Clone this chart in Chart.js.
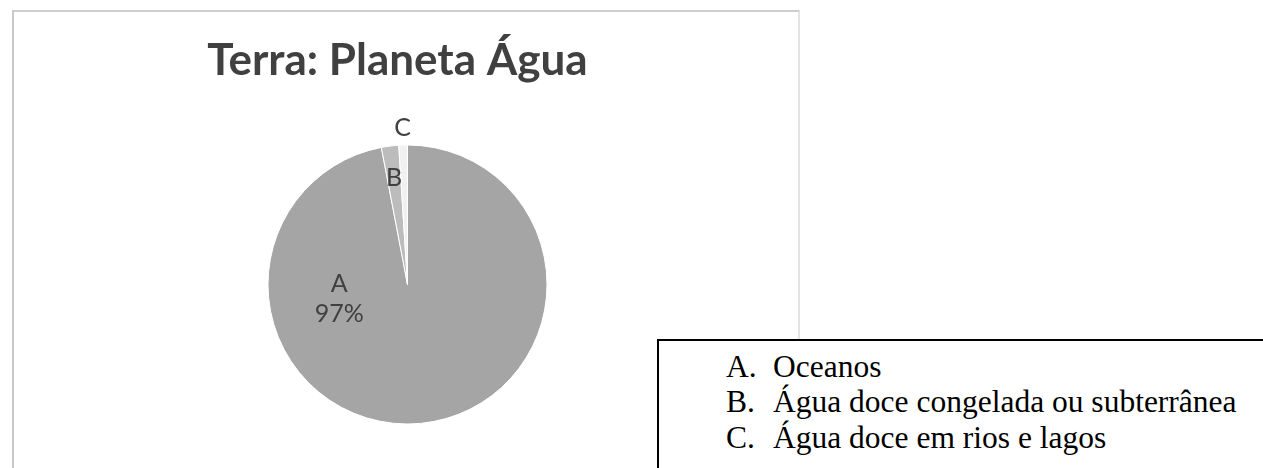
<!DOCTYPE html>
<html lang="pt">
<head>
<meta charset="utf-8">
<title>Terra: Planeta Água</title>
<script src="https://cdn.jsdelivr.net/npm/chart.js@4/dist/chart.umd.min.js"></script>
<style>
  html, body { margin: 0; padding: 0; background: #fff; width: 1263px; height: 468px; overflow: hidden; }
  #frame {
    position: absolute; left: 12px; top: 10px; width: 788px; height: 470px;
    border-left: 2px solid #c9c9c9; border-top: 2px solid #cdcdcd; border-right: 2px solid #e4e4e4;
    box-sizing: border-box;
  }
  #wrap { position: absolute; left: 14px; top: 12px; width: 784px; height: 456px; }
  #key {
    position: absolute; left: 657px; top: 339px; width: 720px; height: 200px;
    border: 2px solid #000; background: #fff; box-sizing: border-box;
    padding: 7.6px 0 0 67px;
    font-family: "Liberation Serif", "Times New Roman", serif; font-size: 31.5px; line-height: 35.5px; color: #000;
  }
  #key .row { white-space: nowrap; }
  #key .tag { display: inline-block; width: 47px; }
</style>
</head>
<body>
<div id="frame"></div>
<div id="wrap"><canvas id="chart"></canvas></div>
<div id="key"></div>
<script>
// Distribution of the planet's water
const titleText = 'Terra: Planeta Água';
const categories = ['A', 'B', 'C'];
const shares = [97, 2, 1];
const descriptions = ['Oceanos', 'Água doce congelada ou subterrânea', 'Água doce em rios e lagos'];
const showShare = [true, false, false];
const sliceColors = ['#a5a5a5', '#bcbcbc', '#f1f1f1'];

// Key box with the category descriptions
const key = document.getElementById('key');
categories.forEach((c, i) => {
  const row = document.createElement('div');
  row.className = 'row';
  const tag = document.createElement('span');
  tag.className = 'tag';
  tag.textContent = c + '.';
  row.appendChild(tag);
  row.appendChild(document.createTextNode(descriptions[i]));
  key.appendChild(row);
});

// Slice labels: category letter (and share) placed per slice
const sliceLabels = {
  id: 'sliceLabels',
  afterDatasetsDraw(chart, args, opts) {
    const ctx = chart.ctx;
    const meta = chart.getDatasetMeta(0);
    ctx.save();
    ctx.font = opts.font;
    ctx.fillStyle = opts.color;
    ctx.textAlign = 'center';
    ctx.textBaseline = 'middle';
    meta.data.forEach((arc, i) => {
      const p = arc.getProps(['x', 'y', 'startAngle', 'endAngle', 'outerRadius'], true);
      const place = opts.placement[i];
      let x, y;
      if (place.dx !== undefined) {
        x = p.x + place.dx * p.outerRadius;
        y = p.y + place.dy * p.outerRadius;
      } else {
        const mid = (p.startAngle + p.endAngle) / 2;
        x = p.x + Math.cos(mid) * place.r * p.outerRadius;
        y = p.y + Math.sin(mid) * place.r * p.outerRadius;
      }
      const lines = [categories[i]];
      if (showShare[i]) lines.push(shares[i] + '%');
      const h = opts.lineHeight;
      lines.forEach((t, k) => {
        ctx.fillText(t, x, y + (k - (lines.length - 1) / 2) * h);
      });
    });
    ctx.restore();
  }
};

// Nudges the title a little left of the pie's axis
const titleShift = {
  id: 'titleShift',
  afterLayout(chart, args, opts) {
    const t = chart.titleBlock;
    if (t) { t.left += opts.dx; t.right += opts.dx; }
  }
};

new Chart(document.getElementById('chart'), {
  type: 'pie',
  data: {
    labels: categories,
    datasets: [{
      data: shares,
      backgroundColor: sliceColors,
      borderColor: '#ffffff',
      borderWidth: 1
    }]
  },
  options: {
    responsive: true,
    maintainAspectRatio: false,
    animation: false,
    events: [],
    layout: { padding: { left: 3, right: 0, top: 0, bottom: 43.5 } },
    plugins: {
      legend: { display: false },
      tooltip: { enabled: false },
      title: {
        display: true,
        text: titleText,
        color: '#404040',
        font: { family: 'Lato, "Open Sans", sans-serif', size: 44, weight: 'bold' },
        padding: { top: 22.8, bottom: 56.9 }
      },
      titleShift: { dx: -10 },
      sliceLabels: {
        font: '25px Lato, "Open Sans", sans-serif',
        color: '#404040',
        lineHeight: 30,
        placement: [
          { dx: -0.49, dy: 0.10 },
          { r: 0.77 },
          { r: 1.12 }
        ]
      }
    }
  },
  plugins: [sliceLabels, titleShift]
});
</script>
</body>
</html>
